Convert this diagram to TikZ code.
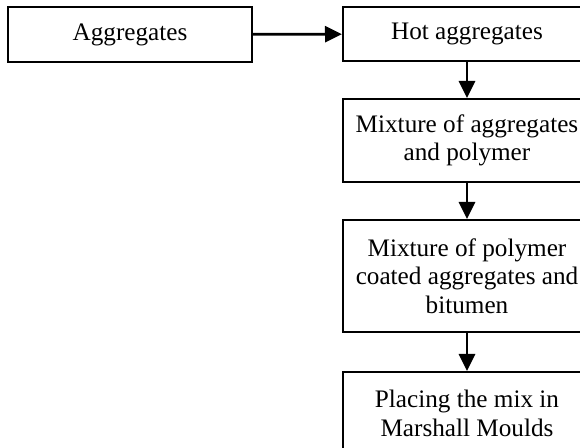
\documentclass[tikz,border=0pt]{standalone}
\usepackage{fontspec}
\setmainfont{Liberation Serif}
\usetikzlibrary{arrows.meta}

\begin{document}
\begin{tikzpicture}[x=0.5pt, y=-0.5pt,
  procbox/.style={draw=black, line width=1pt, fill=white,
               minimum width=122pt, inner sep=0pt,
               font=\fontsize{12.6}{14.2}\selectfont, align=center},
  arr/.style={-{Triangle[length=8.5pt, width=8pt]}, line width=1.4pt}]
\useasboundingbox (0,0) rectangle (580,448);
\node[procbox, minimum height=27.5pt] (agg) at (130,34.5) {Aggregates};
\node[procbox, minimum width=124pt, minimum height=27pt] (hot) at (467,34) {Hot aggregates};
\node[procbox, minimum width=124pt, minimum height=41.5pt] (mixa) at (467,140.5) {Mixture of aggregates\\and polymer};
\node[procbox, minimum width=124pt, minimum height=56pt] (mixb) at (467,276) {Mixture of polymer\\coated aggregates and\\bitumen};
\node[procbox, minimum width=124pt, minimum height=41.5pt] (mould) at (467,413.5) {Placing the mix in\\Marshall Moulds};
\draw[arr] (agg) -- (hot);
\draw[arr] (hot) -- (mixa);
\draw[arr] (mixa) -- (mixb);
\draw[arr] (mixb) -- (mould);
\end{tikzpicture}
\end{document}
